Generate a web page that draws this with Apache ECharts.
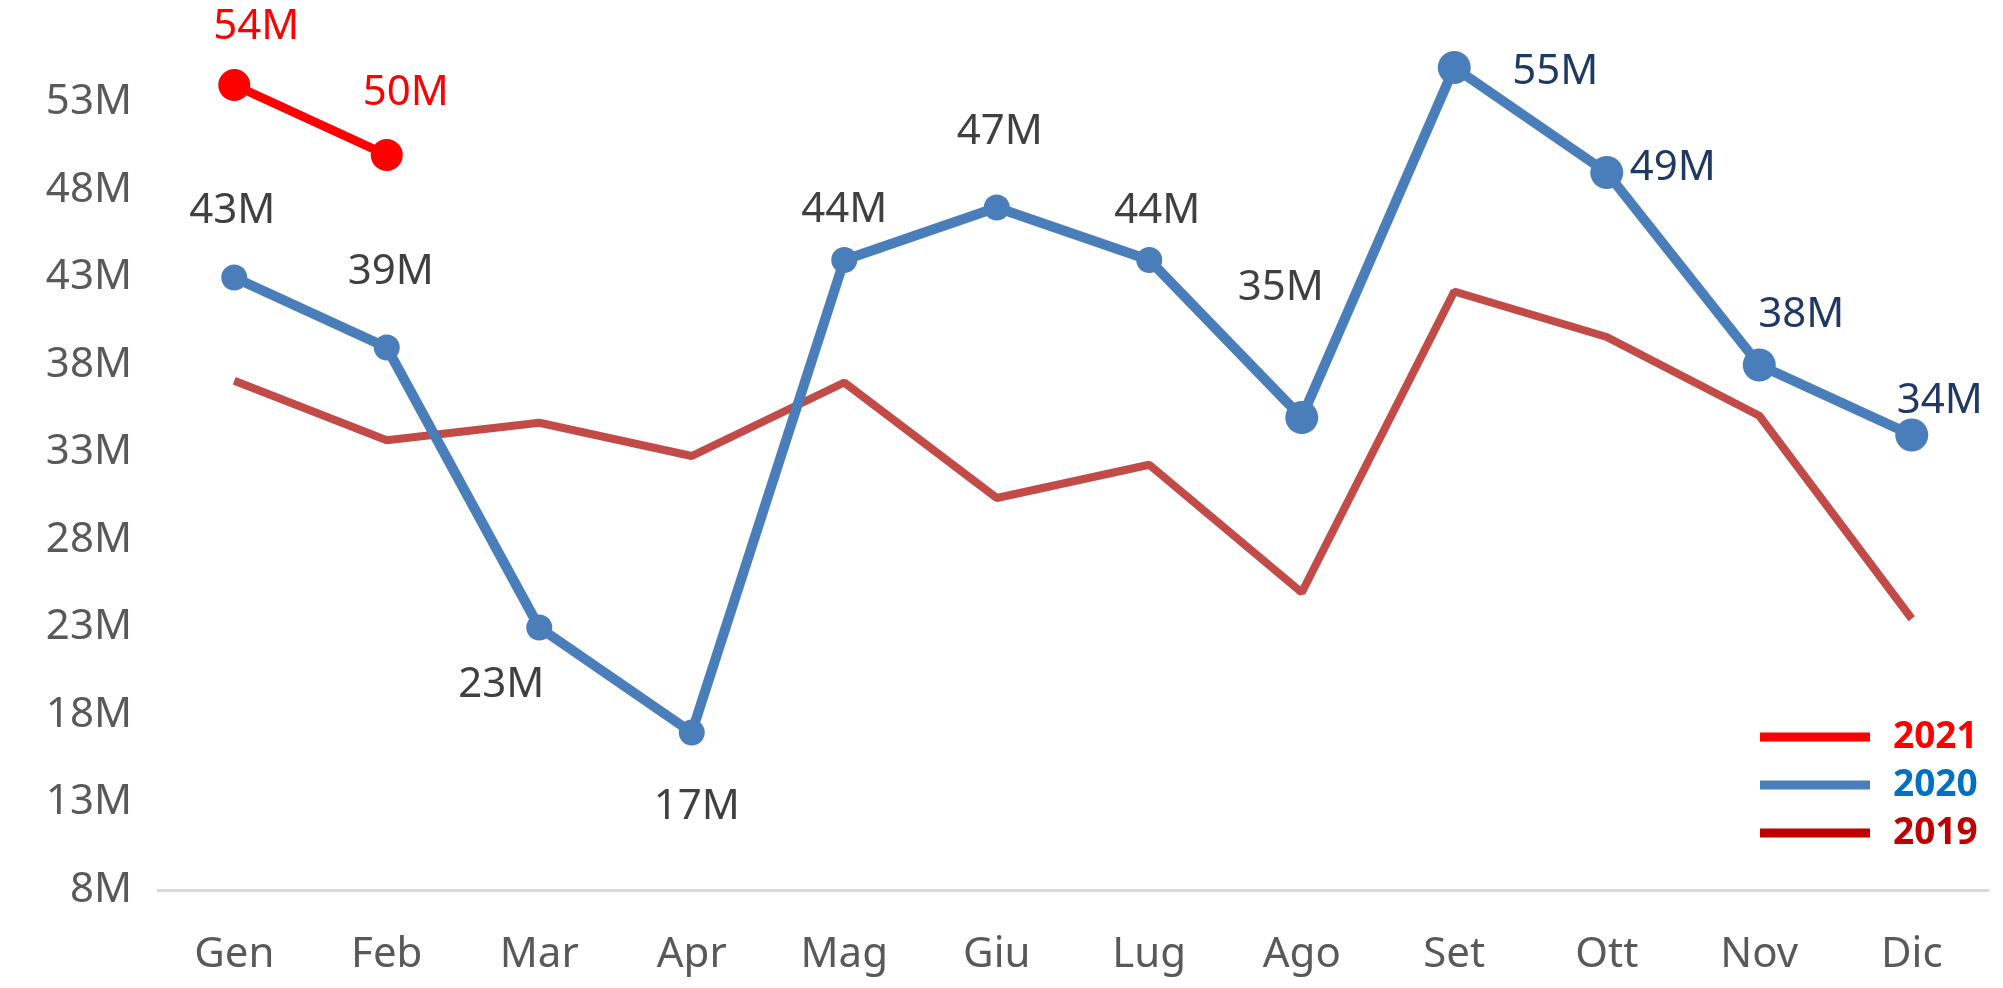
<!DOCTYPE html>
<html>
<head>
<meta charset="utf-8">
<style>
  html, body { margin: 0; padding: 0; background: #fff; }
  #chart { width: 2003px; height: 988px; }
</style>
<script src="https://cdn.jsdelivr.net/npm/echarts@6/dist/echarts.min.js"></script>
</head>
<body>
<div id="chart"></div>
<script>
const months = ['Gen', 'Feb', 'Mar', 'Apr', 'Mag', 'Giu', 'Lug', 'Ago', 'Set', 'Ott', 'Nov', 'Dic']
const values2021 = [54, 50]
const values2020 = [43, 39, 23, 17, 44, 47, 44, 35, 55, 49, 38, 34]
const values2019 = [37.1, 33.7, 34.7, 32.8, 37.0, 30.4, 32.3, 25.0, 42.2, 39.6, 35.1, 23.5]
const legendNames = ['2021', '2020', '2019']

// label placement, relative to each point (px)
const offsets2020 = [[-2, -66], [4, -75], [-38, 58], [5, 75], [0, -50], [3, -75], [8, -49],
  [-21, -129], [101, 5], [66, -4], [42, -50], [28, -34]]
const offsets2021 = [[22, -58], [19, -62]]

const font = '"Noto Sans", "Open Sans", sans-serif'
const chart = echarts.init(document.getElementById('chart'))

const option = {
  animation: false,
  backgroundColor: '#fff',
  textStyle: { fontFamily: font },
  grid: { left: 158, right: 15, top: 50, bottom: 98 },
  legend: {
    orient: 'vertical',
    left: 1755,
    top: 708,
    icon: 'rect',
    itemWidth: 110,
    itemHeight: 9,
    itemGap: 0,
    selectedMode: false,
    textStyle: { fontSize: 37, fontWeight: 'bold', lineHeight: 48, padding: [0, 0, 0, 18], fontFamily: font },
    data: [
      { name: legendNames[0], textStyle: { color: '#ff0000' } },
      { name: legendNames[1], textStyle: { color: '#0070c0' } },
      { name: legendNames[2], textStyle: { color: '#c00000' } }
    ]
  },
  xAxis: {
    type: 'category',
    data: months,
    boundaryGap: true,
    axisLine: { lineStyle: { color: '#d9d9d9', width: 3 } },
    axisTick: { show: false },
    axisLabel: { color: '#595959', fontSize: 42, margin: 44, fontFamily: font }
  },
  yAxis: {
    type: 'value',
    min: 8,
    max: 56,
    interval: 5,
    axisLine: { show: false },
    axisTick: { show: false },
    splitLine: { show: false },
    axisLabel: {
      color: '#595959',
      fontSize: 42,
      margin: 26,
      fontFamily: font,
      formatter: (v) => ((v - 8) % 5 === 0 ? v + 'M' : '')
    }
  },
  series: [
    {
      name: '2019',
      type: 'line',
      data: values2019,
      showSymbol: false,
      lineStyle: { color: '#c24b48', width: 8 },
      itemStyle: { color: '#c00000' },
      z: 2
    },
    {
      name: '2020',
      type: 'line',
      data: values2020.map((v, i) => ({
        value: v,
        label: { offset: offsets2020[i], color: i >= 8 ? '#1f3864' : '#404040' }
      })),
      symbol: 'circle',
      symbolSize: (v, p) => (p.dataIndex >= 7 ? 33 : 26),
      lineStyle: { color: '#4a7ebb', width: 10 },
      itemStyle: { color: '#4a7ebb' },
      label: { show: true, position: 'inside', fontSize: 42, formatter: '{c}M', fontFamily: font },
      z: 3
    },
    {
      name: '2021',
      type: 'line',
      data: values2021.map((v, i) => ({ value: v, label: { offset: offsets2021[i] } })),
      symbol: 'circle',
      symbolSize: 32,
      lineStyle: { color: '#ff0000', width: 9 },
      itemStyle: { color: '#ff0000' },
      label: { show: true, position: 'inside', fontSize: 42, color: '#ff0000', formatter: '{c}M', fontFamily: font },
      z: 4
    }
  ]
}

chart.setOption(option)
window.addEventListener('resize', () => chart.resize())
</script>
</body>
</html>
